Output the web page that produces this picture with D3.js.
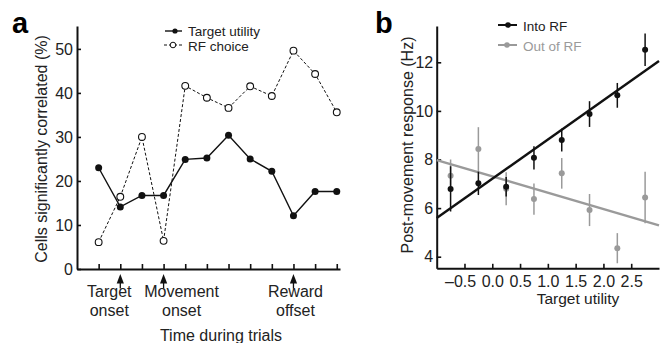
<!DOCTYPE html>
<html>
<head>
<meta charset="utf-8">
<script src="https://cdn.jsdelivr.net/npm/d3@7/dist/d3.min.js"></script>
<style>
  html, body { margin: 0; padding: 0; background: #fff; }
  svg { display: block; font-family: "Liberation Sans", Arial, Helvetica, sans-serif; }
</style>
</head>
<body>
<svg id="fig" width="660" height="343"></svg>
<script>
// ---- Panel a: percentage of cells correlated across trial time bins ----
const timeBins = [0, 1, 2, 3, 4, 5, 6, 7, 8, 9, 10, 11];
const targetUtilityPct = [23.0, 14.1, 16.7, 16.7, 24.9, 25.2, 30.4, 25.0, 22.2, 12.1, 17.6, 17.6];
const rfChoicePct = [6.1, 16.4, 30.0, 6.4, 41.6, 38.9, 36.6, 41.5, 39.3, 49.6, 44.3, 35.6];
const pctTicks = [0, 10, 20, 30, 40, 50];
const eventBins = [1, 3, 9];
const eventNames = [["Target", "onset"], ["Movement", "onset"], ["Reward", "offset"]];

// ---- Panel b: post-movement response vs target utility ----
const utilityBins = [-0.75, -0.25, 0.25, 0.75, 1.25, 1.75, 2.25, 2.75];
const intoRFMean = [6.79, 7.02, 6.88, 8.07, 8.80, 9.87, 10.64, 12.52];
const intoRFErr = [0.93, 0.48, 0.40, 0.48, 0.47, 0.53, 0.51, 0.67];
const outRFMean = [7.33, 8.43, 6.80, 6.37, 7.43, 5.92, 4.35, 6.44];
const outRFErr = [0.67, 0.90, 0.68, 0.64, 0.63, 0.66, 0.62, 1.06];
const utilityTicks = [-0.5, 0, 0.5, 1.0, 1.5, 2.0, 2.5];
const hzTicks = [4, 6, 8, 10, 12];

const svg = d3.select("#fig");
const GRAY = "#9a9a9a";
const INK = "#222";

function styleAxis(g) {
  g.select(".domain").attr("stroke", "#111").attr("stroke-width", 2);
  g.selectAll(".tick line").attr("stroke", "#111").attr("stroke-width", 1.6);
  g.selectAll(".tick text").attr("fill", INK).style("font-size", "16px");
}

// ================= Panel a =================
const xA = d3.scaleLinear().domain([-1, 11.15]).range([77, 340]);
const yA = d3.scaleLinear().domain([0, 55.2]).range([269, 26]);

svg.append("text").attr("x", 12).attr("y", 33)
  .style("font-size", "29px").style("font-weight", "bold").text("a");

svg.append("g").attr("transform", `translate(0,${yA(0)})`)
  .call(d3.axisBottom(xA).tickValues(timeBins).tickFormat("").tickSizeInner(-5).tickSizeOuter(0))
  .call(styleAxis);
svg.append("g").attr("transform", `translate(${xA(-1)},0)`)
  .call(d3.axisLeft(yA).tickValues(pctTicks).tickSizeInner(-4).tickSizeOuter(0).tickPadding(4))
  .call(styleAxis);

svg.append("text")
  .attr("transform", `translate(47,149) rotate(-90)`)
  .attr("text-anchor", "middle").style("font-size", "16px").attr("fill", INK)
  .text("Cells significantly correlated (%)");

const lineA = (vals) => d3.line().x((d, i) => xA(timeBins[i])).y(d => yA(d))(vals);

svg.append("path").attr("d", lineA(rfChoicePct))
  .attr("fill", "none").attr("stroke", "#111").attr("stroke-width", 1)
  .attr("stroke-dasharray", "3,2");
svg.append("path").attr("d", lineA(targetUtilityPct))
  .attr("fill", "none").attr("stroke", "#111").attr("stroke-width", 1.4);

svg.append("g").selectAll("circle").data(rfChoicePct).join("circle")
  .attr("cx", (d, i) => xA(timeBins[i])).attr("cy", d => yA(d)).attr("r", 3.4)
  .attr("fill", "#fff").attr("stroke", "#111").attr("stroke-width", 1.1);
svg.append("g").selectAll("circle").data(targetUtilityPct).join("circle")
  .attr("cx", (d, i) => xA(timeBins[i])).attr("cy", d => yA(d)).attr("r", 3.5)
  .attr("fill", "#111");

// event arrows and names under the time axis
const labelShift = [-11, 18, 2];
eventBins.forEach((b, k) => {
  const x = xA(b);
  const g = svg.append("g");
  g.append("line").attr("x1", x).attr("x2", x).attr("y1", 281).attr("y2", 288.5)
    .attr("stroke", "#111").attr("stroke-width", 1.3);
  g.append("path").attr("d", `M${x},274 L${x - 3.6},283.5 L${x + 3.6},283.5 Z`).attr("fill", "#111");
  eventNames[k].forEach((t, j) => {
    g.append("text").attr("x", x + labelShift[k]).attr("y", 296.5 + j * 19)
      .attr("text-anchor", "middle").style("font-size", "16px").attr("fill", INK).text(t);
  });
});

svg.append("text").attr("x", 221).attr("y", 341).attr("text-anchor", "middle")
  .style("font-size", "16px").attr("fill", INK).text("Time during trials");

// legend a
svg.append("line").attr("x1", 165).attr("x2", 182).attr("y1", 31).attr("y2", 31)
  .attr("stroke", "#111").attr("stroke-width", 1.4);
svg.append("circle").attr("cx", 175).attr("cy", 31).attr("r", 2.6).attr("fill", "#111");
svg.append("text").attr("x", 188).attr("y", 35.5).style("font-size", "13.5px").attr("fill", INK)
  .text("Target utility");
svg.append("line").attr("x1", 164).attr("x2", 183).attr("y1", 45).attr("y2", 45)
  .attr("stroke", "#111").attr("stroke-width", 1).attr("stroke-dasharray", "3,2");
svg.append("circle").attr("cx", 173).attr("cy", 45).attr("r", 2.8)
  .attr("fill", "#fff").attr("stroke", "#111").attr("stroke-width", 1);
svg.append("text").attr("x", 188).attr("y", 51).style("font-size", "13.5px").attr("fill", INK)
  .text("RF choice");

// ================= Panel b =================
const xB = d3.scaleLinear().domain([-1.0, 3.0]).range([436.7, 659]);
const yB = d3.scaleLinear().domain([4 - 11.6 / 24.3, 4 + 230.7 / 24.3]).range([268.3, 26]);
const fmtB = d => (d < 0 ? "\u2013" : "") + d3.format(".1f")(Math.abs(d));

svg.append("text").attr("x", 375).attr("y", 33)
  .style("font-size", "29px").style("font-weight", "bold").text("b");

svg.append("g").attr("transform", `translate(0,${yB.range()[0]})`)
  .call(d3.axisBottom(xB).tickValues(utilityTicks).tickFormat(fmtB)
    .tickSizeInner(-4.5).tickSizeOuter(0).tickPadding(7.5))
  .call(styleAxis)
  // keep the digits centred on the tick; the dash hangs to the left
  .call(g => g.selectAll(".tick text").attr("dx", d => d < 0 ? -4.4 : 0));
svg.append("g").attr("transform", `translate(${xB.range()[0]},0)`)
  .call(d3.axisLeft(yB).tickValues(hzTicks).tickSizeInner(-4.5).tickSizeOuter(0).tickPadding(3.5))
  .call(styleAxis);

svg.append("text").attr("x", 578).attr("y", 304).attr("text-anchor", "middle")
  .style("font-size", "15.5px").attr("fill", INK).text("Target utility");
svg.append("text")
  .attr("transform", `translate(413,145) rotate(-90)`)
  .attr("text-anchor", "middle").style("font-size", "16px").attr("fill", INK)
  .text("Post-movement response (Hz)");

// least-squares fit drawn across the full utility axis
function fitLine(xs, ys) {
  const mx = d3.mean(xs), my = d3.mean(ys);
  const slope = d3.sum(xs, (x, i) => (x - mx) * (ys[i] - my)) / d3.sum(xs, x => (x - mx) ** 2);
  return x => my + slope * (x - mx);
}

function drawSeries(means, errs, color, lineW) {
  const g = svg.append("g");
  const f = fitLine(utilityBins, means);
  const [x0, x1] = xB.domain();
  g.selectAll("line.err").data(means).join("line").attr("class", "err")
    .attr("x1", (d, i) => xB(utilityBins[i])).attr("x2", (d, i) => xB(utilityBins[i]))
    .attr("y1", (d, i) => yB(d - errs[i])).attr("y2", (d, i) => yB(d + errs[i]))
    .attr("stroke", color).attr("stroke-width", 1.5);
  g.append("line").attr("x1", xB(x0)).attr("x2", xB(x1))
    .attr("y1", yB(f(x0))).attr("y2", yB(f(x1)))
    .attr("stroke", color).attr("stroke-width", lineW);
  g.selectAll("circle").data(means).join("circle")
    .attr("cx", (d, i) => xB(utilityBins[i])).attr("cy", d => yB(d)).attr("r", 3)
    .attr("fill", color);
}
drawSeries(outRFMean, outRFErr, GRAY, 2.4);
drawSeries(intoRFMean, intoRFErr, "#111", 2.4);

// legend b
svg.append("line").attr("x1", 498).attr("x2", 517).attr("y1", 25).attr("y2", 25)
  .attr("stroke", "#111").attr("stroke-width", 2);
svg.append("circle").attr("cx", 508).attr("cy", 25).attr("r", 2.8).attr("fill", "#111");
svg.append("text").attr("x", 523).attr("y", 30.5).style("font-size", "13.5px").attr("fill", INK)
  .text("Into RF");
svg.append("line").attr("x1", 498).attr("x2", 517).attr("y1", 45).attr("y2", 45)
  .attr("stroke", GRAY).attr("stroke-width", 2);
svg.append("circle").attr("cx", 507).attr("cy", 45).attr("r", 2.8).attr("fill", GRAY);
svg.append("text").attr("x", 523).attr("y", 50.5).style("font-size", "13.5px").attr("fill", GRAY)
  .text("Out of RF");
</script>
</body>
</html>
